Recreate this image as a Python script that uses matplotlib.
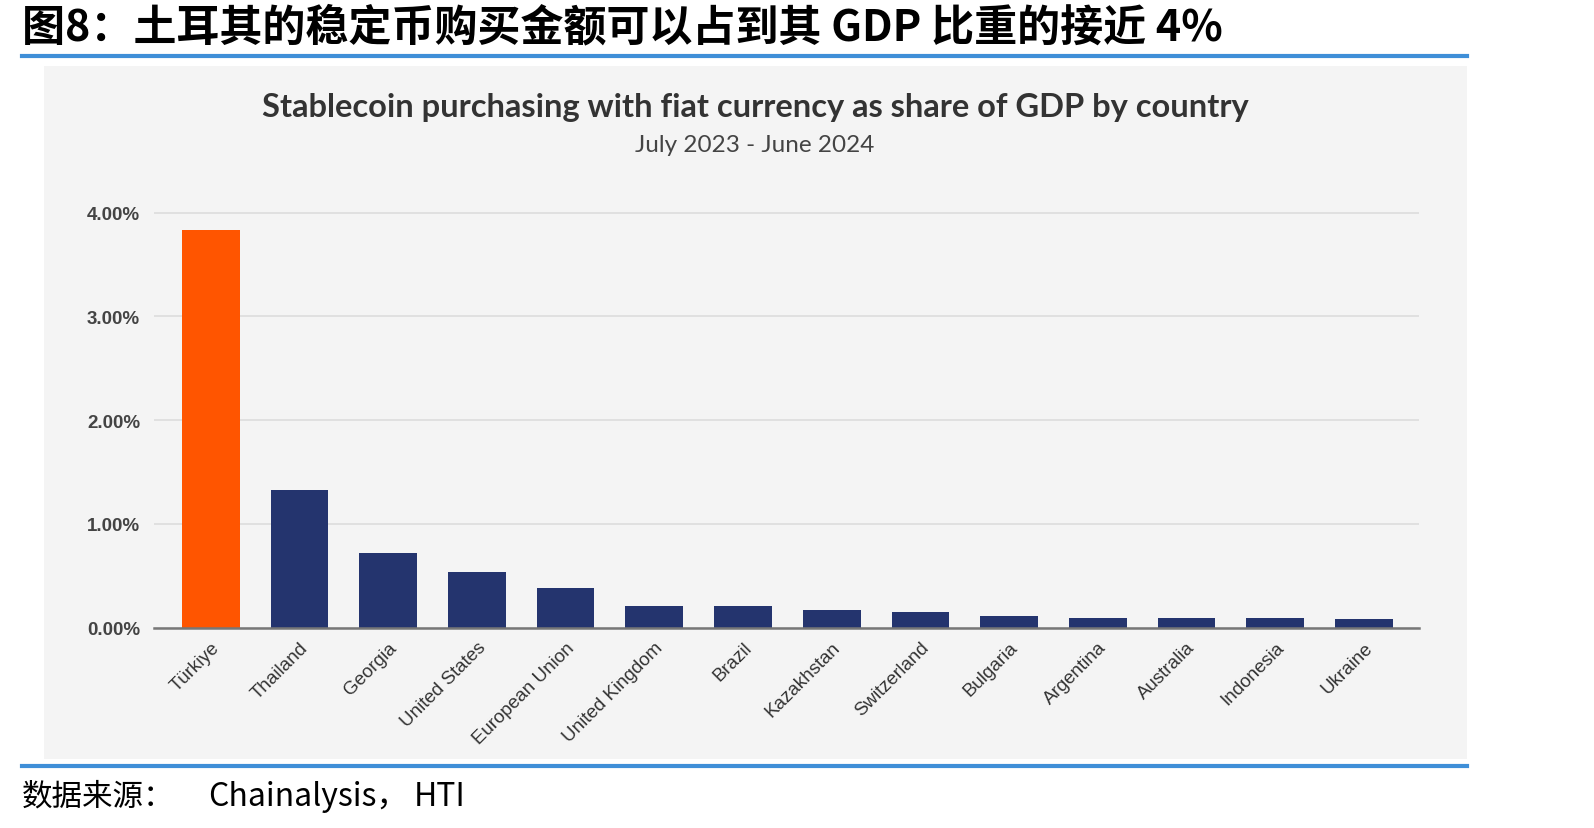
import matplotlib.pyplot as plt
from matplotlib.patches import Rectangle
from matplotlib.lines import Line2D

# 数据
countries = ["Türkiye", "Thailand", "Georgia", "United States", "European Union",
             "United Kingdom", "Brazil", "Kazakhstan", "Switzerland", "Bulgaria",
             "Argentina", "Australia", "Indonesia", "Ukraine"]
share = [3.83, 1.33, 0.72, 0.54, 0.38, 0.21, 0.21, 0.17, 0.15, 0.11,
         0.09, 0.09, 0.09, 0.08]
yticks = [0, 1, 2, 3, 4]

orange = "#FF5500"
navy = "#24346E"
colors = [orange] + [navy] * (len(countries) - 1)

W, H = 1594, 829
fig = plt.figure(figsize=(W / 100, H / 100), dpi=100)
fig.patch.set_facecolor("white")

# 灰色背景
fig.patches.append(Rectangle((44 / W, 1 - 760 / H), (1467 - 44) / W, (760 - 67) / H,
                             transform=fig.transFigure, facecolor="#F4F4F4",
                             edgecolor="none", zorder=-5))
# 蓝色分隔线
for yy in [57, 767]:
    fig.lines.append(Line2D([22 / W, 1467 / W], [1 - yy / H] * 2, transform=fig.transFigure,
                            color="#3F8FD8", lw=3, zorder=-4))

cjk = ["Noto Sans CJK SC", "DejaVu Sans"]
fig.text(22 / W, 1 - 27 / H, "图8：土耳其的稳定币购买金额可以占到其 GDP 比重的接近 4%",
         fontsize=31, fontweight="bold", va="center", ha="left", family=cjk, color="black")
# 数据来源
fig.text(22 / W, 1 - 797 / H, "数据来源：", fontsize=22, va="center", ha="left",
         family=cjk, color="black")
fig.text(208 / W, 1 - 797 / H, "Chainalysis，", fontsize=23, va="center", ha="left",
         family=cjk, color="black")
fig.text(414 / W, 1 - 797 / H, "HTI", fontsize=23, va="center", ha="left",
         family=cjk, color="black")

fig.text(755 / W, 1 - 107 / H, "Stablecoin purchasing with fiat currency as share of GDP by country",
         fontsize=23.5, fontweight="bold", ha="center", va="center", family="Lato", color="#333333")
fig.text(755 / W, 1 - 145 / H, "July 2023 - June 2024", fontsize=17.5, ha="center",
         va="center", family="Lato", color="#444444")

# 坐标轴
y0, ppu = 628.5, 103.7
top = 4.05
ax = fig.add_axes([154 / W, 1 - y0 / H, (1419 - 154) / W, top * ppu / H])
ax.set_facecolor("none")
x = list(range(len(countries)))
ax.bar(x, share, width=0.65, color=colors, zorder=3)
ax.set_xlim(-0.64, 13.62)
ax.set_ylim(0, top)
ax.set_yticks(yticks)
ax.set_yticklabels([f"{v:.2f}%" for v in yticks], fontsize=13.5, fontweight="bold",
                   color="#444444", family="Liberation Sans")
ax.yaxis.grid(True, color="#DDDDDD", lw=1.2, zorder=0)
ax.set_xticks(x)
ax.set_xticklabels(countries, rotation=45, ha="right", rotation_mode="anchor",
                   fontsize=13.5, color="#333333", family="Liberation Sans")
ax.tick_params(axis="both", length=0)
ax.tick_params(axis="y", pad=10)
ax.tick_params(axis="x", pad=8)
for s in ["top", "right", "left"]:
    ax.spines[s].set_visible(False)
ax.spines["bottom"].set_color("#777777")
ax.spines["bottom"].set_linewidth(1.8)
ax.spines["bottom"].set_zorder(4)

fig.savefig("out.png", dpi=100)
